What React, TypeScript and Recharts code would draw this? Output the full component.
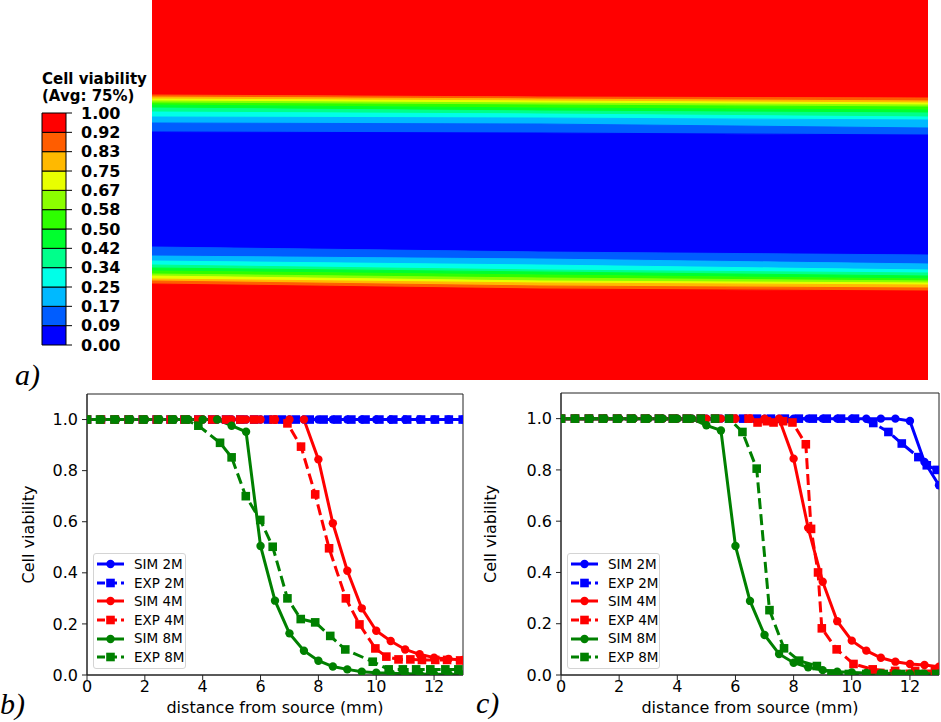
import React from 'react';
import {
  ComposedChart, Area, XAxis, YAxis, BarChart, Bar, LineChart, Line, Legend, ReferenceArea, Label,
} from 'recharts';

// ---------- (a) contour map: bands from top to bottom ----------
const bandColors = [
  '#FF0000', '#FF5D00', '#FFB900', '#E8FF00', '#8BFF00', '#2EFF00', '#00FF2E', '#00FF8B', '#00FFE8', '#00B9FF', '#005DFF',
  '#0000FF',
  '#005DFF', '#00B9FF', '#00FFE8', '#00FF8B', '#00FF2E', '#2EFF00', '#8BFF00', '#E8FF00', '#FFB900', '#FF5D00', '#FF0000',
];
const bandPositions = [0, 0.5, 1];
const edgesLeft = [0, 95, 97, 99, 101, 103, 105, 108, 112, 117, 123, 132, 247, 256, 261, 265, 268, 271, 274, 276, 279, 281, 284, 380];
const edgesMid = [0, 97, 99, 101, 103, 105, 108, 111, 114, 118, 124, 133, 252, 259, 265, 270, 272, 275, 278, 281, 283, 286, 289, 380];
const edgesRight = [0, 98, 101, 103, 105, 107, 110, 113, 117, 120, 128, 135, 255, 264, 270, 273, 276, 279, 281, 283, 285, 288, 291, 380];

// ---------- colour bar ----------
const cbColors = ['#0000FF', '#005DFF', '#00B9FF', '#00FFE8', '#00FF8B', '#00FF2E', '#2EFF00', '#8BFF00', '#E8FF00', '#FFB900', '#FF5D00', '#FF0000'];
const cbLabels = ['0.00', '0.09', '0.17', '0.25', '0.34', '0.42', '0.50', '0.58', '0.67', '0.75', '0.83', '0.92', '1.00'];
const cbTicks = [0, 1, 2, 3, 4, 5, 6, 7, 8, 9, 10, 11, 12];

// ---------- (b) and (c) profiles ----------
const xTicks = [0, 2, 4, 6, 8, 10, 12];
const yTicks = [0, 0.2, 0.4, 0.6, 0.8, 1.0];

const simX = [0, 0.5, 1, 1.5, 2, 2.5, 3, 3.5, 4, 4.5, 5, 5.5, 6, 6.5, 7, 7.5, 8, 8.5, 9, 9.5, 10, 10.5, 11, 11.5, 12, 12.5, 13];
const expX = [0, 0.48, 0.96, 1.44, 1.93, 2.41, 2.89, 3.37, 3.85, 4.33, 4.81, 5.3, 5.78, 6.26, 6.74, 7.22, 7.7, 8.18, 8.66, 9.14, 9.63, 10.11, 10.59, 11.07, 11.55, 12.03, 12.51, 12.99];

// panel b
const bSim2 = [1, 1, 1, 1, 1, 1, 1, 1, 1, 1, 1, 1, 1, 1, 1, 1, 1, 1, 1, 1, 1, 1, 1, 1, 1, 1, 1];
const bExp2 = [1, 1, 1, 1, 1, 1, 1, 1, 1, 1, 1, 1, 1, 1, 1, 1, 1, 1, 1, 1, 1, 1, 1, 1, 1, 1, 1, 1];
const bSim4 = [1, 1, 1, 1, 1, 1, 1, 1, 1, 1, 1, 1, 1, 1, 1, 1, 0.844, 0.594, 0.408, 0.261, 0.173, 0.133, 0.1, 0.081, 0.068, 0.063, 0.059];
const bExp4X = [0, 0.48, 0.96, 1.44, 1.93, 2.41, 2.89, 3.37, 3.85, 4.33, 4.81, 5.3, 5.78, 6.45, 6.93, 7.4, 7.89, 8.37, 8.95, 9.42, 9.97, 10.35, 10.77, 11.18, 11.58, 12.04, 12.45, 12.9];
const bExp4 = [1, 1, 1, 1, 1, 1, 1, 1, 1, 1, 1, 1, 1, 1.0, 0.985, 0.894, 0.707, 0.496, 0.3, 0.198, 0.104, 0.072, 0.061, 0.061, 0.059, 0.059, 0.059, 0.057];
const bSim8 = [1, 1, 1, 1, 1, 1, 1, 1, 1, 1, 0.976, 0.952, 0.505, 0.291, 0.163, 0.095, 0.056, 0.033, 0.022, 0.013, 0.009, 0.007, 0.005, 0.004, 0.003, 0.003, 0.002];
const bExp8X = [0, 0.45, 0.95, 1.45, 1.95, 2.45, 2.95, 3.4, 3.85, 4.6, 5.0, 5.49, 5.99, 6.42, 6.93, 7.39, 7.89, 8.41, 8.93, 9.88, 10.43, 10.92, 11.38, 11.87, 12.39, 12.84];
const bExp8 = [1, 1, 1, 1, 1, 1, 1, 1, 0.976, 0.909, 0.852, 0.7, 0.607, 0.502, 0.3, 0.219, 0.206, 0.153, 0.1, 0.052, 0.022, 0.022, 0.022, 0.022, 0.022, 0.022];

// panel c
const cSim2 = [1, 1, 1, 1, 1, 1, 1, 1, 1, 1, 1, 1, 1, 1, 1, 1, 1, 1, 1, 1, 1, 1, 1, 1, 0.991, 0.831, 0.74];
const cExp2X = [0, 0.48, 0.96, 1.44, 1.93, 2.41, 2.89, 3.37, 3.85, 4.33, 4.81, 5.3, 5.78, 6.26, 6.74, 7.22, 7.7, 8.18, 8.66, 9.14, 9.63, 10.11, 10.74, 11.26, 11.72, 12.29, 12.58, 12.92];
const cExp2 = [1, 1, 1, 1, 1, 1, 1, 1, 1, 1, 1, 1, 1, 1, 1, 1, 1, 1, 1, 1, 1, 1, 0.983, 0.948, 0.903, 0.85, 0.818, 0.8];
const cSim4 = [1, 1, 1, 1, 1, 1, 1, 1, 1, 1, 1, 1, 1, 1, 1, 1, 0.844, 0.574, 0.364, 0.21, 0.134, 0.095, 0.067, 0.052, 0.043, 0.039, 0.032];
const cExp4X = [0, 0.48, 0.96, 1.44, 1.93, 2.41, 2.89, 3.37, 3.85, 4.33, 4.81, 5.3, 5.92, 6.45, 6.76, 7.08, 7.31, 7.64, 7.96, 8.42, 8.6, 8.84, 8.97, 9.48, 10.06, 10.72, 11.49, 12.18, 12.86];
const cExp4 = [1, 1, 1, 1, 1, 1, 1, 1, 1, 1, 1, 1, 1.0, 1.0, 0.985, 0.99, 0.985, 0.99, 0.985, 0.9, 0.57, 0.4, 0.182, 0.1, 0.043, 0.022, 0.016, 0.016, 0.016];
const cSim8 = [1, 1, 1, 1, 1, 1, 1, 1, 1, 1, 0.974, 0.954, 0.503, 0.289, 0.156, 0.082, 0.048, 0.03, 0.019, 0.013, 0.01, 0.008, 0.007, 0.006, 0.005, 0.005, 0.005];
const cExp8X = [0, 0.48, 0.96, 1.44, 1.93, 2.41, 2.89, 3.37, 3.85, 4.33, 4.81, 5.3, 5.78, 6.24, 6.73, 7.17, 7.67, 8.19, 8.8, 9.3, 9.9, 10.5, 11.1, 11.7, 12.3, 12.9];
const cExp8 = [1, 1, 1, 1, 1, 1, 1, 1, 1, 1, 1, 1, 1, 0.948, 0.805, 0.253, 0.104, 0.056, 0.035, 0.006, 0.004, 0.004, 0.004, 0.004, 0.004, 0.004];

const seriesNames = ['SIM 2M', 'EXP 2M', 'SIM 4M', 'EXP 4M', 'SIM 8M', 'EXP 8M'];
const seriesColors = ['#0000FF', '#0000FF', '#FF0000', '#FF0000', '#008000', '#008000'];

const FONT = '"DejaVu Sans", Verdana, sans-serif';
const DASH = '11 5';

const zip = (xs: number[], ys: number[]) => xs.map((d, i) => ({ d, v: ys[i] }));

const heatData = bandPositions.map((pos, i) => {
  const e = [edgesLeft, edgesMid, edgesRight][i];
  const row: any = { pos };
  bandColors.forEach((_, k) => {
    row['b' + k] = [e[k], e[k + 1]];
  });
  return row;
});

const cbRow: any = { name: 'cb' };
cbColors.forEach((_, i) => {
  cbRow['c' + i] = 1;
});

const panelB = [zip(simX, bSim2), zip(expX, bExp2), zip(simX, bSim4), zip(bExp4X, bExp4), zip(simX, bSim8), zip(bExp8X, bExp8)];
const panelC = [zip(simX, cSim2), zip(cExp2X, cExp2), zip(simX, cSim4), zip(cExp4X, cExp4), zip(simX, cSim8), zip(cExp8X, cExp8)];

const Marker = ({ cx, cy, color, square }: any) =>
  square ? (
    <rect x={cx - 4.3} y={cy - 4.3} width={8.6} height={8.6} fill={color} stroke="none" />
  ) : (
    <circle cx={cx} cy={cy} r={4.2} fill={color} stroke="none" />
  );

const LegendBox = (props: any) => {
  const payload = [...(props.payload || [])].sort(
    (a: any, b: any) => seriesNames.indexOf(a.value) - seriesNames.indexOf(b.value),
  );
  return (
    <div
      style={{
        border: '1px solid #d4d4d4',
        borderRadius: 3,
        background: 'rgba(255,255,255,0.85)',
        padding: '1px 3px 1px 3px',
        boxSizing: 'border-box',
        width: 93,
        fontFamily: FONT,
        fontSize: 13.5,
        color: '#000',
      }}
    >
      {payload.map((entry: any) => {
        const idx = seriesNames.indexOf(entry.value);
        const color = seriesColors[idx];
        const square = entry.value.startsWith('EXP');
        return (
          <div key={entry.value} style={{ display: 'flex', alignItems: 'center', height: 18.6 }}>
            <svg width={27} height={12} style={{ display: 'block', flex: 'none' }}>
              <line x1={0} y1={6} x2={27} y2={6} stroke={color} strokeWidth={3} strokeDasharray={square ? '8 4' : undefined} />
              <Marker cx={13.5} cy={6} color={color} square={square} />
            </svg>
            <span style={{ marginLeft: 10, whiteSpace: 'nowrap', lineHeight: '18.6px' }}>{entry.value}</span>
          </div>
        );
      })}
    </div>
  );
};

const ProfileChart = ({ lines, width, margin, labelOffset }: any) => (
  <LineChart width={width} height={337} margin={margin}>
    <XAxis
      type="number"
      dataKey="d"
      domain={[0, 13]}
      ticks={xTicks}
      allowDataOverflow
      height={47}
      tickSize={5}
      tickMargin={1}
      interval={0}
      axisLine={{ stroke: '#222' }}
      tickLine={{ stroke: '#222' }}
      tick={{ fill: '#000', fontSize: 16, fontFamily: FONT }}
    >
      <Label value="distance from source (mm)" position="insideBottom" offset={9} style={{ fontSize: 16, fill: '#000', fontFamily: FONT }} />
    </XAxis>
    <YAxis
      type="number"
      domain={[0, 1.1]}
      ticks={yTicks}
      allowDataOverflow
      width={80}
      tickSize={5}
      tickMargin={4}
      interval={0}
      tickFormatter={(v: number) => v.toFixed(1)}
      axisLine={{ stroke: '#222' }}
      tickLine={{ stroke: '#222' }}
      tick={{ fill: '#000', fontSize: 16, fontFamily: FONT }}
    >
      <Label value="Cell viability" angle={-90} position="insideLeft" offset={labelOffset} style={{ textAnchor: 'middle', fontSize: 16, fill: '#000', fontFamily: FONT }} />
    </YAxis>
    <ReferenceArea x1={0} x2={13} y1={0} y2={1.1} fill="none" stroke="#222" strokeWidth={1} ifOverflow="visible" />
    {lines.map((data: any, i: number) => {
      const color = seriesColors[i];
      const square = i % 2 === 1;
      return (
        <Line
          key={seriesNames[i]}
          data={data}
          dataKey="v"
          name={seriesNames[i]}
          type="linear"
          stroke={color}
          strokeWidth={3}
          strokeDasharray={square ? DASH : undefined}
          isAnimationActive={false}
          dot={(p: any) => <Marker key={`${seriesNames[i]}-${p.index}`} cx={p.cx} cy={p.cy} color={color} square={square} />}
          activeDot={false}
        />
      );
    })}
    <Legend
      layout="horizontal"
      verticalAlign="middle"
      align="center"
      content={(p: any) => <LegendBox {...p} />}
      wrapperStyle={{ left: margin.legendLeft, top: 168, width: 93 }}
    />
  </LineChart>
);

const panelLabel = (text: string, left: number, top: number) => (
  <div
    style={{
      position: 'absolute',
      left,
      top,
      fontFamily: '"Liberation Serif", "DejaVu Serif", serif',
      fontStyle: 'italic',
      fontSize: 30,
      lineHeight: 1,
      color: '#000',
    }}
  >
    {text}
  </div>
);

export default function App() {
  return (
    <div style={{ position: 'absolute', left: 0, top: 0, width: 941, height: 722, background: '#fff', overflow: 'hidden' }}>
      {/* colour bar title */}
      <div style={{ position: 'absolute', left: 42, top: 71, fontFamily: FONT, fontWeight: 'bold', fontSize: 15, color: '#000', lineHeight: '16.5px', whiteSpace: 'nowrap' }}>
        Cell viability
        <br />
        (Avg: 75%)
      </div>

      {/* colour bar */}
      <div style={{ position: 'absolute', left: 0, top: 0 }}>
        <BarChart width={150} height={380} data={[cbRow]} margin={{ top: 113, right: 24, left: 42, bottom: 35 }} barCategoryGap={0}>
          <XAxis dataKey="name" hide />
          <YAxis
            orientation="right"
            type="number"
            domain={[0, 12]}
            ticks={cbTicks}
            interval={0}
            width={60}
            tickSize={6}
            tickMargin={9}
            axisLine={false}
            tickLine={{ stroke: '#000' }}
            tickFormatter={(i: number) => cbLabels[i]}
            tick={{ fill: '#000', fontSize: 16, fontWeight: 'bold', fontFamily: FONT }}
          />
          {cbColors.map((c, i) => (
            <Bar key={'c' + i} dataKey={'c' + i} stackId="cb" fill={c} stroke="#000" strokeWidth={1} isAnimationActive={false} />
          ))}
        </BarChart>
      </div>

      {/* contour map */}
      <div style={{ position: 'absolute', left: 0, top: 0 }}>
        <ComposedChart width={941} height={380} data={heatData} margin={{ top: 0, right: 13, left: 152, bottom: 0 }}>
          <XAxis type="number" dataKey="pos" domain={[0, 1]} hide />
          <YAxis type="number" domain={[0, 380]} reversed width={0} tick={false} tickLine={false} axisLine={{ stroke: '#333', strokeWidth: 1.5 }} />
          {bandColors.map((c, k) => (
            <Area
              key={'b' + k}
              dataKey={'b' + k}
              type="linear"
              fill={c}
              fillOpacity={1}
              stroke={c}
              strokeWidth={1}
              isAnimationActive={false}
              dot={false}
              activeDot={false}
            />
          ))}
        </ComposedChart>
      </div>

      {/* panel b */}
      <div style={{ position: 'absolute', left: 0, top: 385 }}>
        <ProfileChart lines={panelB} width={470} margin={{ top: 9, right: 7, left: 7, bottom: 0, legendLeft: 93 }} labelOffset={21} />
      </div>

      {/* panel c */}
      <div style={{ position: 'absolute', left: 470, top: 385 }}>
        <ProfileChart lines={panelC} width={471} margin={{ top: 8, right: 2, left: 11, bottom: 0, legendLeft: 97 }} labelOffset={9} />
      </div>

      {panelLabel('a)', 15, 360)}
      {panelLabel('b)', 0, 689)}
      {panelLabel('c)', 476, 688)}
    </div>
  );
}
